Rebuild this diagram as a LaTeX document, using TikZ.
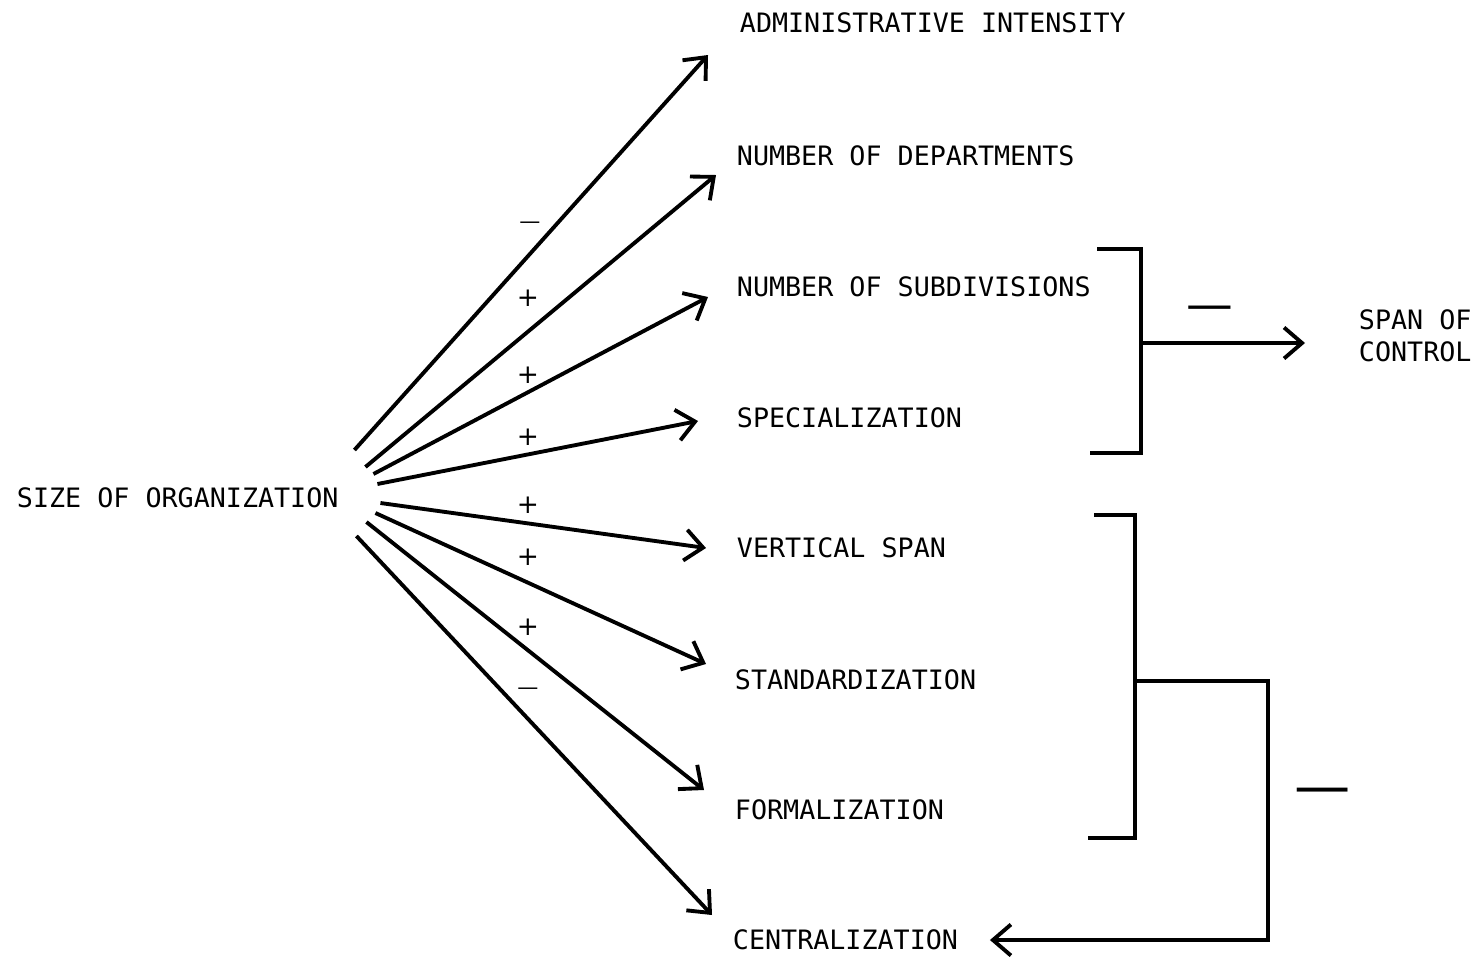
\documentclass[tikz,border=0pt]{standalone}
\usepackage{fontspec}
\setmonofont{DejaVu Sans Mono}
\newfontfamily\signfont{DejaVu Sans}
\usepackage{tikz}
\usetikzlibrary{arrows.meta,calc}
\newcommand{\sgn}[2]{\signfont\fontsize{#1}{#1}\selectfont #2}

\begin{document}
\begin{tikzpicture}[x=0.02cm,y=-0.02cm,line width=2.2pt,
  item/.style={anchor=west,inner sep=0pt,font=\ttfamily\fontsize{15.2}{18}\selectfont},
  sign/.style={inner sep=0pt},
  >={Straight Barb[length=0.36cm,width=0.62cm]}]
\useasboundingbox (0,0) rectangle (1477,958);
\node[item] (size) at (15,498){SIZE OF ORGANIZATION};
\node[item] (admin) at (738,23){ADMINISTRATIVE INTENSITY};
\node[item] (depts) at (735,156){NUMBER OF DEPARTMENTS};
\node[item] (subdiv) at (735,287){NUMBER OF SUBDIVISIONS};
\node[item] (spec) at (735,418){SPECIALIZATION};
\node[item] (vspan) at (735,548){VERTICAL SPAN};
\node[item] (stand) at (733,680){STANDARDIZATION};
\node[item] (formal) at (733,810){FORMALIZATION};
\node[item] (central) at (731,940){CENTRALIZATION};
\node[item,align=left] (span) at (1357,336){SPAN OF\\CONTROL};
% fan out of size
\foreach \n/\sx/\sy/\ex/\ey in {admin/14/-48/-30/32,depts/25/-31/-19/19,subdiv/33/-24/-27/10,
   spec/37/-14/-37/3,vspan/40/5/-29/0,stand/35/15/-27/-16,formal/26/24/-29/-20,central/16/38/-19/-25}
   \draw[->] ($(size.east)+(\sx,\sy)$) -- ($(\n.west)+(\ex,\ey)$);
% signs on the fan
\node[sign] (s1) at (530,225){\sgn{12}{—}};
\foreach \y [count=\c from 2] in {298,375,437,505,557,627}
   \node[sign] (s\c) at (528,\y){\sgn{15}{+}};
\node[sign] (s8) at (528,691){\sgn{12}{—}};
% upper bracket -> span of control
\draw (1097,249) -| (1141,453) -- (1090,453);
\coordinate (upmid) at (1141,343);
\draw[->] (upmid) -- ($(span.west)+(-52,7)$);
\node[sign] (m1) at (1210,313){\sgn{26.6}{—}};
% lower bracket -> centralization
\draw (1094,515) -| (1135,838) -- (1088,838);
\coordinate (lowmid) at (1135,681);
\coordinate (loopr) at (1268,681);
\draw[->] (lowmid) -- (loopr) |- ($(central.east)+(30,0)$);
\node[sign] (m2) at (1323,797){\sgn{32}{—}};
\end{tikzpicture}
\end{document}
